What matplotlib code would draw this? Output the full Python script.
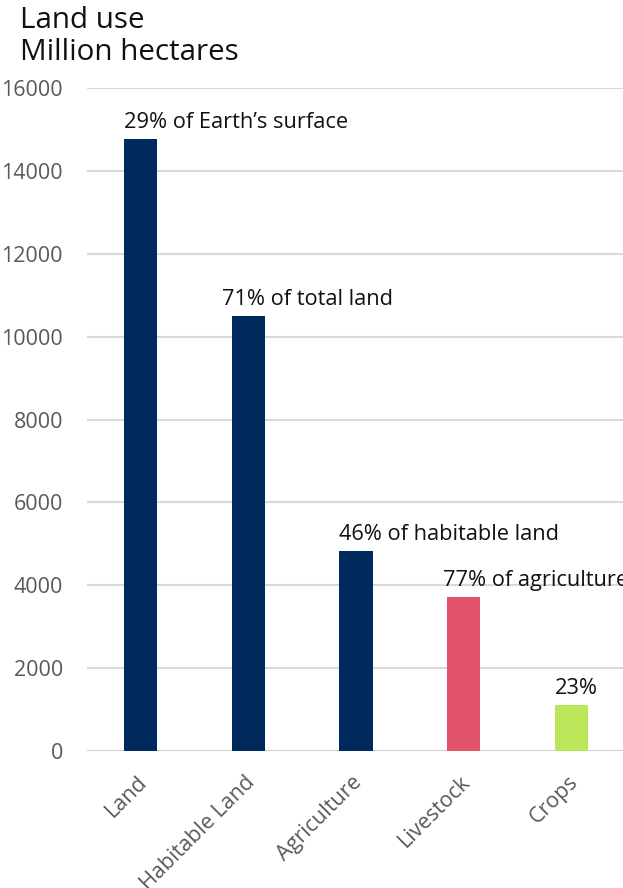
import matplotlib
matplotlib.use("Agg")
import matplotlib.pyplot as plt
import matplotlib.transforms as mtransforms

categories = ["Land", "Habitable Land", "Agriculture", "Livestock", "Crops"]
values = [14770, 10500, 4830, 3720, 1110]
labels = ["29% of Earth\u2019s surface", "71% of total land", "46% of habitable land",
          "77% of agriculture", "23%"]
colors = ["#002A5E", "#002A5E", "#002A5E", "#E0536B", "#BCE65A"]
yticks = [0, 2000, 4000, 6000, 8000, 10000, 12000, 14000, 16000]

plt.rcParams["font.family"] = ["Open Sans", "DejaVu Sans"]

W, H = 623, 888
fig = plt.figure(figsize=(W / 100, H / 100), dpi=100)
ax = fig.add_axes([86.6 / W, 1 - 751 / H, 538.8 / W, 663 / H])

x = range(len(categories))
bar_w = 0.31
bars = ax.bar(x, values, width=bar_w, color=colors, zorder=3)

ax.set_xlim(-0.5, len(categories) - 0.5)
ax.set_ylim(0, 16000)
ax.set_yticks(yticks)
ax.set_yticklabels([str(v) for v in yticks])
ax.yaxis.grid(True, color="#D9D9D9", linewidth=1.5, zorder=0)
ax.set_axisbelow(True)
for s in ["top", "right", "left", "bottom"]:
    ax.spines[s].set_visible(False)
ax.axhline(0, color="#D0D0D0", linewidth=2, zorder=2)

ax.tick_params(axis="y", length=0, pad=17, labelsize=15.5, labelcolor="#595959")
ax.tick_params(axis="x", length=0, pad=15, labelsize=15.5, labelcolor="#595959")
ax.set_xticks(list(x))
ax.set_xticklabels(categories, rotation=45, ha="right", rotation_mode="anchor")
shift = mtransforms.ScaledTranslation(-3 / 72, 0, fig.dpi_scale_trans)
for lab in ax.get_xticklabels():
    lab.set_transform(lab.get_transform() + shift)

# percentage labels sit just above each bar, starting near its left edge
shifts = [0, -7, 0, -3, 0]
for b, txt, dx in zip(bars, labels, shifts):
    ax.annotate(txt, (b.get_x(), b.get_height()), xytext=(dx, 4.5),
                textcoords="offset points", ha="left", va="bottom",
                fontsize=15.7, color="#111111", annotation_clip=False)

fig.text(20 / W, 1 - 6 / H, "Land use\nMillion hectares", fontsize=21.3,
         color="#111111", ha="left", va="top", linespacing=1.15)

fig.savefig("out.png", dpi=100)
